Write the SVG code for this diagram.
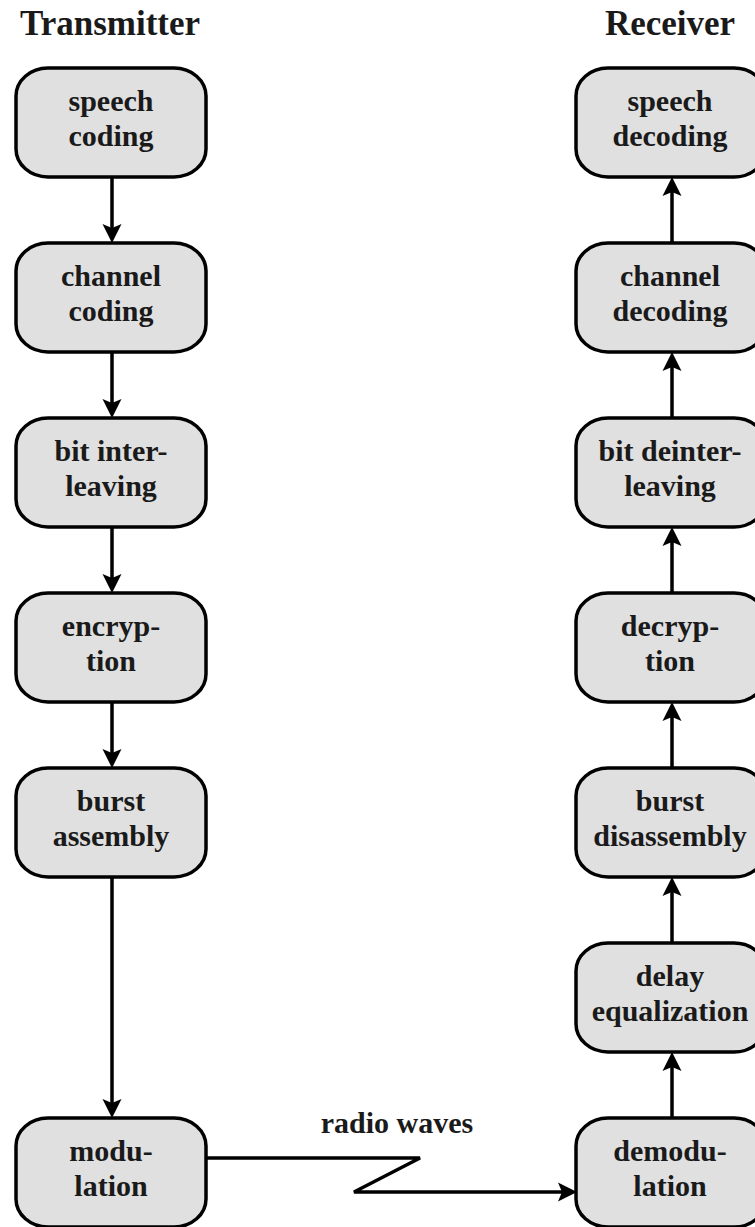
<svg xmlns="http://www.w3.org/2000/svg" width="755" height="1227" viewBox="0 0 755 1227">
<style>
.box{fill:#e0e0e0;stroke:#000;stroke-width:3.5}
.t{font-family:"Liberation Serif","Times New Roman",serif;font-weight:bold;font-size:30px;fill:#1a1a1a;text-anchor:middle}
.title{font-size:35px}
.c{fill:none;stroke:#000;stroke-width:3.5}
</style>
<defs>
<marker id="ah" markerUnits="userSpaceOnUse" markerWidth="24" markerHeight="24" viewBox="-22 -12 24 24" refX="-13" refY="0" orient="auto">
<path d="M0,0 L-19,-9.5 L-15,0 L-19,9.5 Z" fill="#000"/>
</marker>
</defs>
<text class="t title" x="110" y="35">Transmitter</text>
<text class="t title" x="670" y="35">Receiver</text>
<g id="connectors">
<line class="c" x1="112" y1="177" x2="112" y2="230" marker-end="url(#ah)"/>
<line class="c" x1="112" y1="352" x2="112" y2="405" marker-end="url(#ah)"/>
<line class="c" x1="112" y1="527" x2="112" y2="580" marker-end="url(#ah)"/>
<line class="c" x1="112" y1="702" x2="112" y2="755" marker-end="url(#ah)"/>
<line class="c" x1="112" y1="877" x2="112" y2="1105" marker-end="url(#ah)"/>
<line class="c" x1="672" y1="243" x2="672" y2="190" marker-end="url(#ah)"/>
<line class="c" x1="672" y1="418" x2="672" y2="365" marker-end="url(#ah)"/>
<line class="c" x1="672" y1="593" x2="672" y2="540" marker-end="url(#ah)"/>
<line class="c" x1="672" y1="768" x2="672" y2="715" marker-end="url(#ah)"/>
<line class="c" x1="672" y1="943" x2="672" y2="890" marker-end="url(#ah)"/>
<line class="c" x1="672" y1="1118" x2="672" y2="1065" marker-end="url(#ah)"/>
<path class="c" d="M206,1158 H420 L354,1192 H564" marker-end="url(#ah)"/>
<text class="t" x="397" y="1133">radio waves</text>
</g>
<g id="speech-coding"><rect class="box" x="16" y="68" width="190" height="109" rx="32" ry="28"/><text class="t" x="111" y="111">speech</text><text class="t" x="111" y="146">coding</text></g>
<g id="channel-coding"><rect class="box" x="16" y="243" width="190" height="109" rx="32" ry="28"/><text class="t" x="111" y="286">channel</text><text class="t" x="111" y="321">coding</text></g>
<g id="bit-interleaving"><rect class="box" x="16" y="418" width="190" height="109" rx="32" ry="28"/><text class="t" x="111" y="461">bit inter-</text><text class="t" x="111" y="496">leaving</text></g>
<g id="encryption"><rect class="box" x="16" y="593" width="190" height="109" rx="32" ry="28"/><text class="t" x="111" y="636">encryp-</text><text class="t" x="111" y="671">tion</text></g>
<g id="burst-assembly"><rect class="box" x="16" y="768" width="190" height="109" rx="32" ry="28"/><text class="t" x="111" y="811">burst</text><text class="t" x="111" y="846">assembly</text></g>
<g id="modulation"><rect class="box" x="16" y="1118" width="190" height="109" rx="32" ry="28"/><text class="t" x="111" y="1161">modu-</text><text class="t" x="111" y="1196">lation</text></g>
<g id="speech-decoding"><rect class="box" x="576" y="68" width="190" height="109" rx="32" ry="28"/><text class="t" x="670" y="111">speech</text><text class="t" x="670" y="146">decoding</text></g>
<g id="channel-decoding"><rect class="box" x="576" y="243" width="190" height="109" rx="32" ry="28"/><text class="t" x="670" y="286">channel</text><text class="t" x="670" y="321">decoding</text></g>
<g id="bit-deinterleaving"><rect class="box" x="576" y="418" width="190" height="109" rx="32" ry="28"/><text class="t" x="670" y="461">bit deinter-</text><text class="t" x="670" y="496">leaving</text></g>
<g id="decryption"><rect class="box" x="576" y="593" width="190" height="109" rx="32" ry="28"/><text class="t" x="670" y="636">decryp-</text><text class="t" x="670" y="671">tion</text></g>
<g id="burst-disassembly"><rect class="box" x="576" y="768" width="190" height="109" rx="32" ry="28"/><text class="t" x="670" y="811">burst</text><text class="t" x="670" y="846">disassembly</text></g>
<g id="delay-equalization"><rect class="box" x="576" y="943" width="190" height="109" rx="32" ry="28"/><text class="t" x="670" y="986">delay</text><text class="t" x="670" y="1021">equalization</text></g>
<g id="demodulation"><rect class="box" x="576" y="1118" width="190" height="109" rx="32" ry="28"/><text class="t" x="670" y="1161">demodu-</text><text class="t" x="670" y="1196">lation</text></g>
</svg>
